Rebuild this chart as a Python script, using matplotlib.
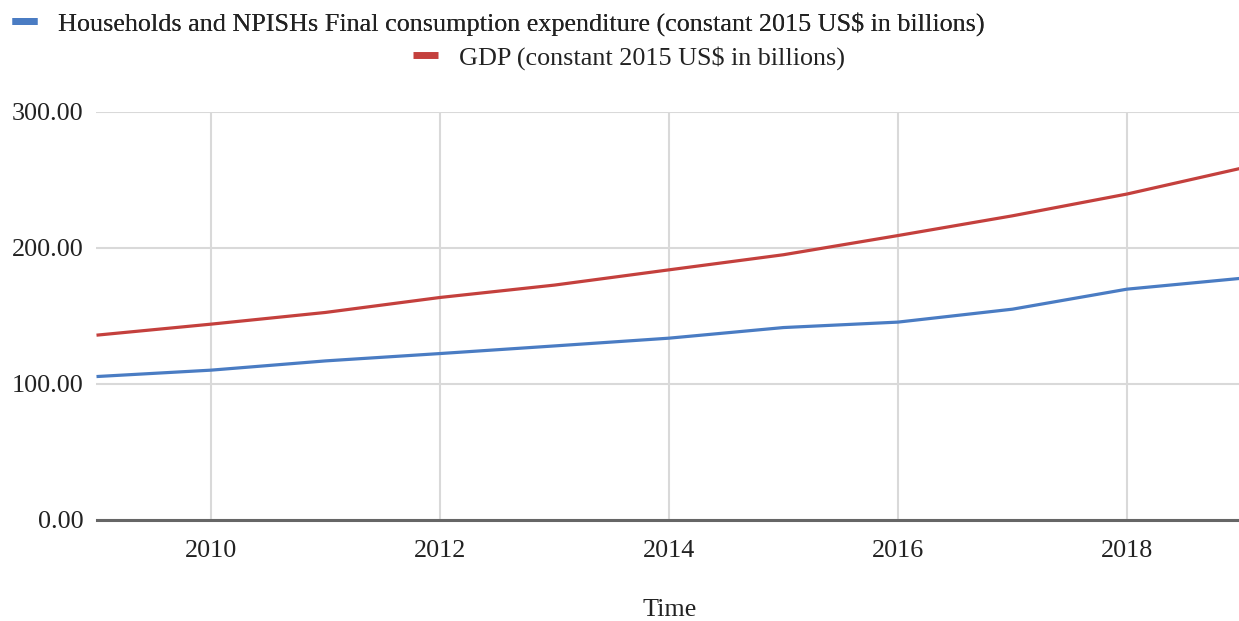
import matplotlib
matplotlib.use("Agg")
import matplotlib.pyplot as plt
from matplotlib.lines import Line2D

# Annual values, constant 2015 US$ in billions
years = [2009, 2010, 2011, 2012, 2013, 2014, 2015, 2016, 2017, 2018, 2019]
consumption = [105.4, 110.1, 116.9, 122.3, 127.9, 133.6, 141.4, 145.4, 154.9, 169.6, 177.6]
gdp = [135.8, 143.9, 152.5, 163.5, 172.6, 183.8, 194.9, 209.0, 223.5, 239.5, 258.5]

consumption_label = "Households and NPISHs Final consumption expenditure (constant 2015 US$ in billions)"
gdp_label = "GDP (constant 2015 US$ in billions)"

x_ticks = [2010, 2012, 2014, 2016, 2018]
y_ticks = [0, 100, 200, 300]

BLUE = "#4a7cc3"
RED = "#c4403d"
TEXT = "#222222"
FS = 18.8

plt.rcParams["font.family"] = ["Liberation Serif", "DejaVu Serif"]

W, H = 1239, 621
fig = plt.figure(figsize=(W / 100, H / 100), dpi=100)
ax = fig.add_axes([96.5 / W, 1 - 520 / H, (1241.4 - 96.5) / W, (520 - 111.7) / H])

ax.plot(years, consumption, color=BLUE, lw=2.3, solid_capstyle="butt", zorder=3)
ax.plot(years, gdp, color=RED, lw=2.3, solid_capstyle="butt", zorder=3)

ax.set_xlim(2009, 2019)
ax.set_ylim(0, 300)
ax.set_xticks(x_ticks)
ax.set_yticks(y_ticks)
ax.set_yticklabels([f"{v:.2f}" for v in y_ticks])
ax.tick_params(axis="both", length=0, labelsize=FS, labelcolor=TEXT)
ax.tick_params(axis="y", pad=9.5)
ax.tick_params(axis="x", pad=14.5)

ax.grid(True, color="#d9d9d9", lw=1.5, zorder=0)
ax.set_axisbelow(True)
for side in ("top", "right", "left"):
    ax.spines[side].set_visible(False)
ax.spines["bottom"].set_color("#666666")
ax.spines["bottom"].set_linewidth(2.2)
ax.spines["bottom"].set_zorder(4)

fig.text(670 / W, 1 - 610 / H, "Time", ha="center", va="center",
         fontsize=FS, color=TEXT)

# Two legend rows, each placed on its own
leg_kw = dict(frameon=False, fontsize=FS, handlelength=0.97, handletextpad=0.78,
              borderpad=0, borderaxespad=0, loc="center left", labelcolor=TEXT)
h1 = Line2D([], [], color=BLUE, lw=5, solid_capstyle="butt")
h2 = Line2D([], [], color=RED, lw=5, solid_capstyle="butt")
leg1 = fig.legend([h1], [consumption_label], bbox_to_anchor=(12 / W, 1 - 24 / H), **leg_kw)
fig.add_artist(leg1)
fig.legend([h2], [gdp_label], bbox_to_anchor=(413 / W, 1 - 58 / H), **leg_kw)

fig.savefig("out.png", dpi=100)
